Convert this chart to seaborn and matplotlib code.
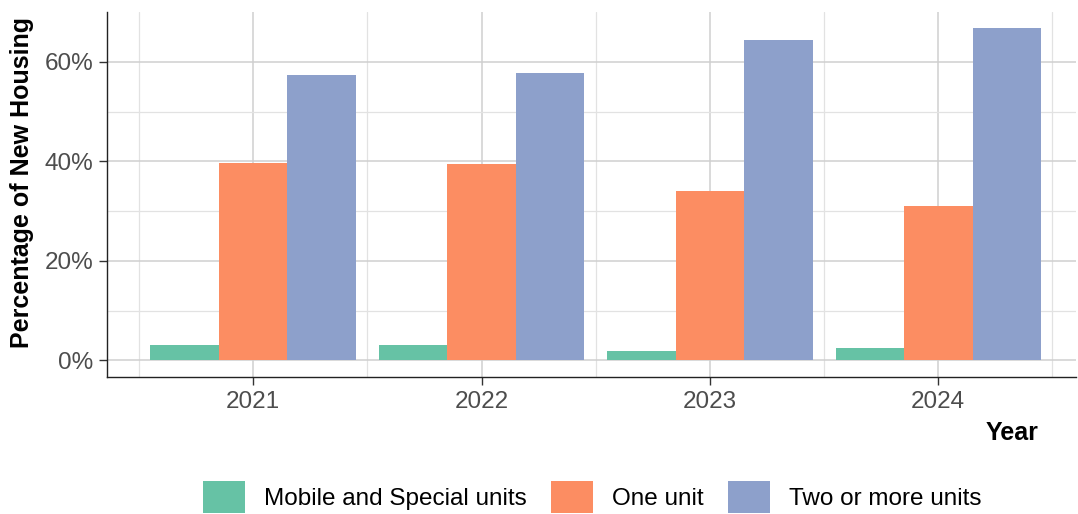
import matplotlib
matplotlib.use("Agg")
import matplotlib.pyplot as plt
import seaborn as sns
import pandas as pd
from matplotlib.ticker import FixedLocator, FuncFormatter

years = ["2021", "2022", "2023", "2024"]
types = ["Mobile and Special units", "One unit", "Two or more units"]
mobile = [3.15, 3.15, 1.95, 2.4]
one_unit = [39.6, 39.4, 34.0, 31.0]
two_plus = [57.4, 57.7, 64.3, 66.7]
colors = ["#66c2a5", "#fc8d62", "#8da0cb"]

rows = []
for t, vals in zip(types, [mobile, one_unit, two_plus]):
    for y, v in zip(years, vals):
        rows.append({"Year": y, "Type": t, "Pct": v})
df = pd.DataFrame(rows)

sns.set_style("white")
plt.rcParams["font.family"] = ["Liberation Sans", "DejaVu Sans"]

fig = plt.figure(figsize=(10.78, 5.14), dpi=100)
ax = fig.add_axes([107/1078, 1-377/514, (1076-107)/1078, (377-12)/514])

sns.barplot(data=df, x="Year", y="Pct", hue="Type", order=years, hue_order=types,
            palette=colors, width=0.9, saturation=1, ax=ax, gap=0, linewidth=0,
            legend=True)

ax.set_xlim(-0.64, 3.603)
ax.set_ylim(-3.33, 70)
ax.yaxis.set_major_locator(FixedLocator([0, 20, 40, 60]))
ax.yaxis.set_minor_locator(FixedLocator([10, 30, 50]))
ax.xaxis.set_minor_locator(FixedLocator([-0.5, 0.5, 1.5, 2.5, 3.5]))
ax.yaxis.set_major_formatter(FuncFormatter(lambda v, p: f"{v:.0f}%"))
ax.set_axisbelow(True)
ax.grid(which="major", color="#cfcfcf", linewidth=1.1)
ax.grid(which="minor", color="#e2e2e2", linewidth=0.9)
for s in ["top", "right"]:
    ax.spines[s].set_visible(False)
for s in ["left", "bottom"]:
    ax.spines[s].set_color("#222222")
    ax.spines[s].set_linewidth(1.0)
ax.tick_params(axis="both", which="major", length=6, width=1, color="#333333",
               labelcolor="#4d4d4d", labelsize=17.5, direction="out", bottom=True,
               left=True, pad=4)
ax.tick_params(axis="both", which="minor", length=0)
ax.set_xlabel("")
ax.set_ylabel("")

fig.text(22/1078, 1-182/514, "Percentage of New Housing", rotation=90, fontsize=18,
         fontweight="bold", ha="center", va="center", color="black")
fig.text(1038/1078, 1-433/514, "Year", fontsize=18, fontweight="bold",
         ha="right", va="center", color="black")

handles, labels = ax.get_legend_handles_labels()
ax.legend_.remove()
fig.legend(handles, labels, loc="center", bbox_to_anchor=(592/1078, 1-497/514), ncol=3,
           frameon=False, fontsize=17.5, handlelength=1.73, handleheight=1.7,
           handletextpad=0.78, columnspacing=1.0, labelcolor="black",
           borderpad=0, borderaxespad=0)

fig.savefig("out.png", dpi=100)
